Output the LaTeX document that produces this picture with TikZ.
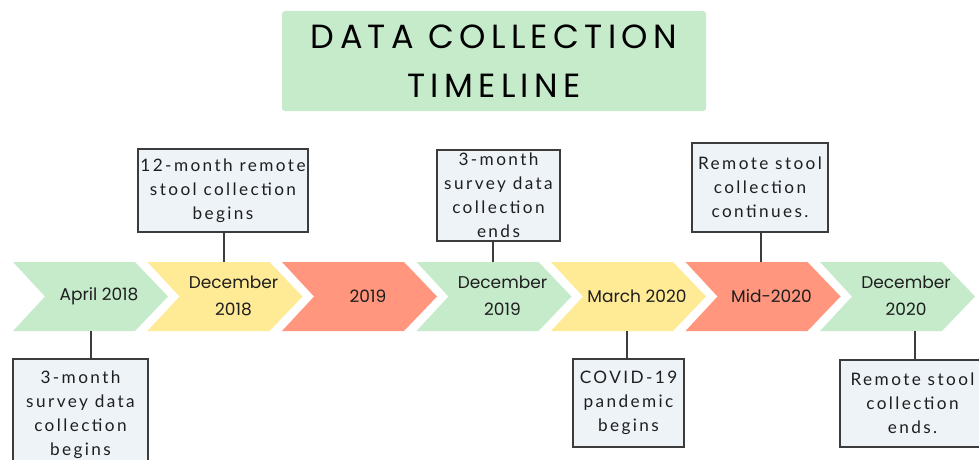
\documentclass[tikz,border=0pt]{standalone}
\usepackage{fontspec}
\newfontfamily\chevfont{Poppins}
\newfontfamily\titlefont[LetterSpace=16]{Poppins}
\newfontfamily\boxfont[LetterSpace=14]{Lato}
\definecolor{cgreen}{RGB}{197,235,203}
\definecolor{cyellow}{RGB}{255,234,150}
\definecolor{cred}{RGB}{255,150,125}
\definecolor{cboxfill}{RGB}{238,243,248}
\definecolor{cline}{RGB}{60,60,60}
\definecolor{ctext}{RGB}{30,30,30}
\begin{document}
\begin{tikzpicture}[x=1pt,y=-1pt,
  titlebox/.style={fill=cgreen, rounded corners=3pt, minimum width=424pt, minimum height=100pt, inner sep=0pt,
    align=center, font=\titlefont\fontsize{33.5}{49}\selectfont, text=black},
  chevtext/.style={align=center, inner sep=0pt, font=\chevfont\fontsize{17}{27}\selectfont, text=ctext},
  callout/.style={draw=cline, line width=1.1pt, fill=cboxfill, inner sep=0pt, align=center,
    font=\boxfont\fontsize{17.2}{24}\selectfont, text=ctext},
  conn/.style={draw=cline, line width=1.1pt}]
\useasboundingbox (0,0) rectangle (979,460);
\clip (0,0) rectangle (979,460);

\node[titlebox] (title) at (494,61) {DATA COLLECTION\\TIMELINE};

\foreach \i/\col/\txt in {0/cgreen/{April 2018},1/cyellow/{December\\2018},2/cred/{2019},
  3/cgreen/{December\\2019},4/cyellow/{March 2020},5/cred/{Mid-2020},6/cgreen/{December\\2020}}{
  \pgfmathsetmacro\L{13+134.5*\i}
  \fill[\col] (\L,262) -- ++(122,0) -- ++(33,34.5) -- ++(-33,34.5) -- ++(-122,0) -- ++(32,-34.5) -- cycle;
  \node[chevtext] (chev\i) at (\L+86,296) {\txt};
}

% callout boxes
\node[callout, minimum width=135pt, minimum height=111pt] (b1) at (80.5,414.5) {3-month\\survey data\\collection\\begins};
\node[callout, minimum width=170pt, minimum height=83pt] (b2) at (223,190.5) {12-month remote\\stool collection\\begins};
\node[callout, minimum width=123pt, minimum height=91pt] (b3) at (498.5,195.5) {3-month\\survey data\\collection\\ends};
\node[callout, minimum width=136pt, minimum height=89pt] (b4) at (760,187.5) {Remote stool\\collection\\continues.};
\node[callout, minimum width=111pt, minimum height=88pt] (b5) at (628.5,403) {COVID-19\\pandemic\\begins};
\node[callout, minimum width=145pt, minimum height=87pt] (b6) at (912.5,403.5) {Remote stool\\collection\\ends.};

% connector anchor points on the chevrons
\coordinate (k1) at (91,331);
\coordinate (k2) at (224,262);
\coordinate (k3) at (493,262);
\coordinate (k4) at (761,262);
\coordinate (k5) at (627,331);
\coordinate (k6) at (915,331);

\draw[conn] (k1) -- (k1 |- b1.north);
\draw[conn] (k2) -- (k2 |- b2.south);
\draw[conn] (k3) -- (k3 |- b3.south);
\draw[conn] (k4) -- (k4 |- b4.south);
\draw[conn] (k5) -- (k5 |- b5.north);
\draw[conn] (k6) -- (k6 |- b6.north);
\end{tikzpicture}
\end{document}
